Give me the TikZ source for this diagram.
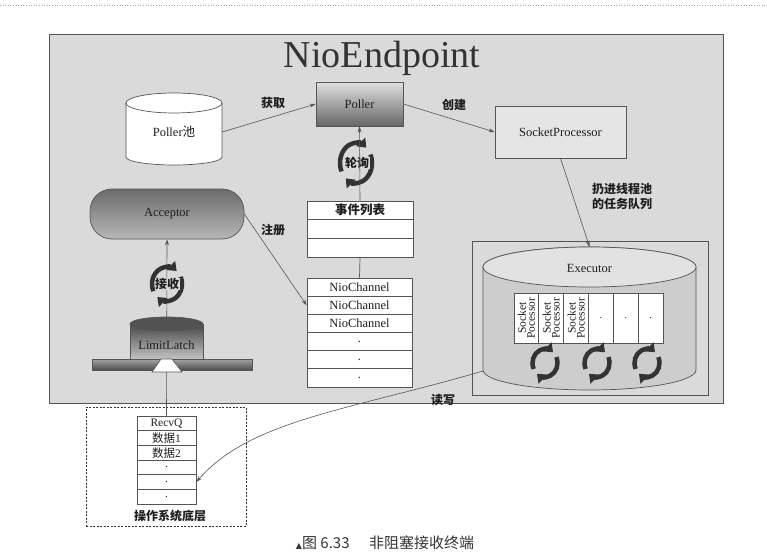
\documentclass[tikz,border=0pt]{standalone}
\usepackage{fontspec}
\setmainfont{Liberation Serif}
\newfontfamily\cjk{Noto Sans CJK SC}
\newfontfamily\dejavu{DejaVu Sans}
\usetikzlibrary{arrows.meta}
\definecolor{bgc}{RGB}{218,218,218}
\definecolor{linec}{RGB}{85,85,85}
\definecolor{txtc}{RGB}{30,30,30}
\definecolor{cylbody}{RGB}{205,205,205}
\definecolor{cyltop}{RGB}{226,226,226}
\tikzset{
  cycstyle/.style={draw=black!80, line width=4.5pt, -{Triangle[length=8pt,width=12pt]}},
  pics/cycicon/.style args={#1/#2}{code={
    \draw[cycstyle] (205:#1 and #2) arc[start angle=205, end angle=50, x radius=#1, y radius=#2];
    \draw[cycstyle] (25:#1 and #2) arc[start angle=25, end angle=-130, x radius=#1, y radius=#2];
  }}
}
\begin{document}
\begin{tikzpicture}[x=1pt,y=-1pt,
  line/.style={draw=linec, line width=0.7pt},
  arr/.style={draw=linec, line width=0.6pt, -{Stealth[length=6pt,width=4pt]}},
  lat/.style={font=\fontsize{12.5}{13}\selectfont, text=txtc, inner sep=0},
  zh/.style={font=\cjk\bfseries\fontsize{12}{15}\selectfont, text=txtc, inner sep=0, align=center},
  cell/.style={draw=linec, line width=0.7pt, fill=white, inner sep=0, text=txtc, font=\fontsize{12.5}{13}\selectfont}]
\useasboundingbox (0,0) rectangle (767,556);
% top dotted rule
\coordinate (tl) at (0,5);
\coordinate (tr) at (767,5);
\draw[gray!70, dotted, line width=0.6pt] (tl) -- (tr);

% main frame
\node[draw=linec, line width=0.8pt, fill=bgc, minimum width=674pt, minimum height=369pt, inner sep=0] (frame) at (386,218.5) {};
\node[font=\fontsize{38}{40}\selectfont, text=black!80, inner sep=0, anchor=base] (title) at (382,68) {NioEndpoint};

% Poller pool cylinder
\draw[line, fill=white] (126,103) -- (126,157) arc[start angle=180,end angle=360,x radius=48pt,y radius=8pt] -- (222,103) arc[start angle=0,end angle=180,x radius=48pt,y radius=10pt] -- cycle;
\draw[line] (126,103) arc[start angle=180,end angle=360,x radius=48pt,y radius=10pt];
\node[lat, minimum width=96pt, minimum height=52pt] (pool) at (174,132) {Poller{\cjk 池}};

% Poller
\node[draw=linec, line width=0.7pt, top color=black!12, bottom color=black!60, minimum width=87pt, minimum height=44pt, lat] (poller) at (359.5,104) {Poller};

% SocketProcessor
\node[draw=linec, line width=0.7pt, fill=bgc!70!white, minimum width=131pt, minimum height=52pt, lat] (sproc) at (560.5,132) {SocketProcessor};

% Acceptor
\node[draw=linec, line width=0.7pt, rounded corners=22pt, top color=black!58, bottom color=black!28, minimum width=154pt, minimum height=50pt, lat] (acc) at (167,214) {Acceptor};

% event list table
\node[cell, minimum width=106pt, minimum height=18.67pt] (ev1) at (360,210.3) {\cjk\bfseries 事件列表};
\node[cell, minimum width=106pt, minimum height=18.67pt] (ev2) at (360,229) {};
\node[cell, minimum width=106pt, minimum height=18.67pt] (ev3) at (360,247.7) {};

% NioChannel table
\node[cell, minimum width=105pt, minimum height=18.17pt] (nc1) at (359.5,287.1) {NioChannel};
\node[cell, minimum width=105pt, minimum height=18.17pt] (nc2) at (359.5,305.3) {NioChannel};
\node[cell, minimum width=105pt, minimum height=18.17pt] (nc3) at (359.5,323.4) {NioChannel};
\node[cell, minimum width=105pt, minimum height=18.17pt] (nc4) at (359.5,341.6) {.};
\node[cell, minimum width=105pt, minimum height=18.17pt] (nc5) at (359.5,359.8) {.};
\node[cell, minimum width=105pt, minimum height=18.17pt] (nc6) at (359.5,377.9) {.};

% RecvQ table and OS box
\node[draw=black!80, line width=0.8pt, dash pattern=on 2pt off 1.5pt, minimum width=160pt, minimum height=119pt, inner sep=0] (osbox) at (166,466.5) {};
\node[cell, minimum width=59pt, minimum height=14.67pt, font=\fontsize{11.5}{12}\selectfont] (rq1) at (166.5,423.3) {RecvQ};
\node[cell, minimum width=59pt, minimum height=14.67pt, font=\fontsize{11.5}{12}\selectfont] (rq2) at (166.5,438) {{\cjk 数据}1};
\node[cell, minimum width=59pt, minimum height=14.67pt, font=\fontsize{11.5}{12}\selectfont] (rq3) at (166.5,452.7) {{\cjk 数据}2};
\node[cell, minimum width=59pt, minimum height=14.67pt, font=\fontsize{11.5}{12}\selectfont] (rq4) at (166.5,467.3) {.};
\node[cell, minimum width=59pt, minimum height=14.67pt, font=\fontsize{11.5}{12}\selectfont] (rq5) at (166.5,482) {.};
\node[cell, minimum width=59pt, minimum height=14.67pt, font=\fontsize{11.5}{12}\selectfont] (rq6) at (166.5,496.7) {.};
\node[zh] (oslabel) at (170,516) {操作系统底层};

% LimitLatch line to Acceptor (behind LimitLatch)
\draw[arr] (rq1.north) -- (acc.south);

% LimitLatch cylinder
\shade[top color=black!72, bottom color=black!22] (130,324) -- (130,360) -- (203,360) -- (203,324) -- cycle;
\draw[line] (130,324) -- (130,360) -- (203,360) -- (203,324);
\draw[line, fill=black!68] (166.5,324) ellipse[x radius=36.5pt, y radius=7pt];
\node[lat, minimum width=73pt, minimum height=30pt] (ll) at (166.5,345) {LimitLatch};
% base bar and funnel
\draw[line, top color=black!35, bottom color=black!70] (92,359) rectangle (252,370);
\draw[line, fill=white] (161,359) -- (172,359) -- (182,372) -- (152,372) -- cycle;

% Executor
\node[draw=linec, line width=0.8pt, fill=bgc, minimum width=236pt, minimum height=154pt, inner sep=0] (execbox) at (590,318) {};
\draw[line, fill=cylbody] (483,267) -- (483,370) arc[start angle=180,end angle=360,x radius=106.5pt,y radius=20pt] -- (696,267) arc[start angle=0,end angle=180,x radius=106.5pt,y radius=20pt] -- cycle;
\draw[line, fill=cyltop] (589.5,267) ellipse[x radius=106.5pt, y radius=20pt];
\node[minimum width=213pt, minimum height=143pt, inner sep=0] (exec) at (589.5,318.5) {};
\node[lat] (exect) at (589.5,268) {Executor};
\coordinate (execll) at (483,371);

% socket processor queue
\foreach \i/\x in {1/526.4,2/551.25,3/576.1,4/600.9,5/625.75,6/650.6}{
  \node[cell, minimum width=24.83pt, minimum height=50pt] (sq\i) at (\x,318) {};
}
\foreach \i in {1,2,3}{
  \node[rotate=90, align=center, inner sep=0, text=txtc, font=\fontsize{11.5}{9}\selectfont] (sqt\i) at (sq\i) {Socket\\Pocessor};
}
\foreach \i in {4,5,6}{
  \node[inner sep=0, text=txtc, font=\fontsize{10}{10}\selectfont] (sqd\i) at (sq\i) {.};
}
\pic at (545,363) {cycicon=12.5pt/14pt};
\pic at (597,363) {cycicon=12.5pt/14pt};
\pic at (647,363) {cycicon=12.5pt/14pt};

% cycle icons with labels
\pic at (356,163) {cycicon=16pt/20pt};
\node[zh, fill=bgc, inner sep=0.5pt] (pollq) at (357,163) {轮询};
\pic at (167,284) {cycicon=15pt/17pt};
\node[zh, fill=bgc, inner sep=0.5pt] (recvq) at (167,284) {接收};

% connectors
\draw[arr] (pool.east) -- (poller.west);
\node[zh] (l1) at (273,103) {获取};
\draw[arr] (poller.east) -- (sproc.west);
\node[zh] (l2) at (454,105) {创建};
\draw[arr] (ev1.north) -- (poller.south);
\draw[line] (ev3.south) -- (nc1.north);
\draw[arr] (acc.east) -- (nc2.west);
\node[zh] (l3) at (273,230) {注册};
\draw[arr] (sproc.south) -- (exec.north);
\node[zh] (l4) at (622,196) {扔进线程池\\的任务队列};
\draw[arr] (execll) .. controls (350,410) and (250,420) .. (rq5.east);
\node[zh] (l5) at (443,400) {读写};

% caption
\node[inner sep=0, text=black!80] (cap) at (385,543) {{\dejavu\fontsize{8}{10}\selectfont ▲}{\cjk\fontsize{15}{16}\selectfont 图 6.33\hspace{1.3em}非阻塞接收终端}};
\end{tikzpicture}
\end{document}
